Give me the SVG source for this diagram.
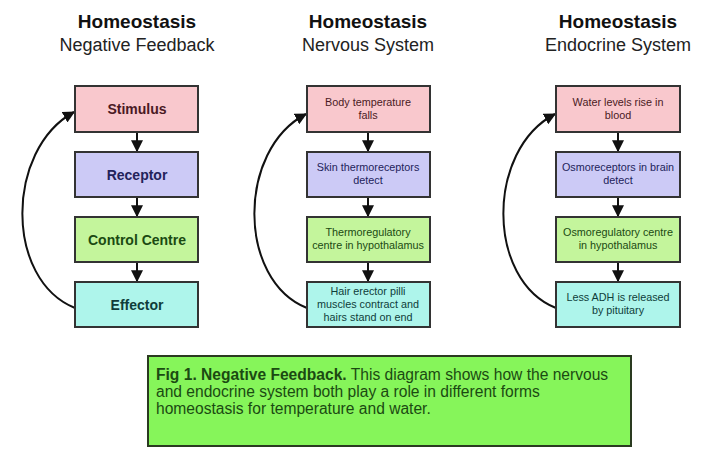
<svg xmlns="http://www.w3.org/2000/svg" width="720" height="457" viewBox="0 0 720 457">
<style>
text{font-family:"Liberation Sans",Arial,sans-serif;text-anchor:middle}
.h{font-size:19px;font-weight:bold;fill:#111}
.s{font-size:18px;fill:#222}
.b{stroke:#333;stroke-width:2}
.p{fill:#f9c8cd}.r{fill:#cccaf6}.g{fill:#c4f59c}.c{fill:#aef5eb}
.big{font-size:14px;font-weight:bold}
.sm{font-size:10.8px}
.tp{fill:#4a1a24}.tr{fill:#23235a}.tg{fill:#1b4a12}.tc{fill:#0f3d3a}
.con{stroke:#111;stroke-width:2;fill:none}
.cap{font-size:15.6px;fill:#1b4a12;text-anchor:start}
</style>
<defs>
<marker id="a" viewBox="0 0 10 10" refX="9" refY="5" markerWidth="6" markerHeight="6" orient="auto"><path d="M0,0L10,5L0,10z" fill="#111"/></marker>
</defs>
<rect width="720" height="457" fill="#fff"/>
<g id="titles">
<text class="h" x="137" y="28">Homeostasis</text><text class="s" x="137" y="51">Negative Feedback</text>
<text class="h" x="368" y="28">Homeostasis</text><text class="s" x="368" y="51">Nervous System</text>
<text class="h" x="618" y="28">Homeostasis</text><text class="s" x="618" y="51">Endocrine System</text>
</g>
<g id="connectors">
<path class="con" d="M137,132V151" marker-end="url(#a)"/>
<path class="con" d="M137,197V216" marker-end="url(#a)"/>
<path class="con" d="M137,262V281" marker-end="url(#a)"/>
<path class="con" d="M75,308C5,280 5,150 74,112" marker-end="url(#a)"/>
<path class="con" d="M368,132V151" marker-end="url(#a)"/>
<path class="con" d="M368,197V216" marker-end="url(#a)"/>
<path class="con" d="M368,262V281" marker-end="url(#a)"/>
<path class="con" d="M307,308C237,280 237,150 306,114" marker-end="url(#a)"/>
<path class="con" d="M618,132V151" marker-end="url(#a)"/>
<path class="con" d="M618,197V216" marker-end="url(#a)"/>
<path class="con" d="M618,262V281" marker-end="url(#a)"/>
<path class="con" d="M556,308C486,280 486,150 555,114" marker-end="url(#a)"/>
</g>
<g id="stimulus"><rect class="b p" x="75" y="86" width="123" height="46"/><text class="big tp" x="137" y="114">Stimulus</text></g>
<g id="receptor"><rect class="b r" x="75" y="152" width="123" height="45"/><text class="big tr" x="137" y="180">Receptor</text></g>
<g id="control"><rect class="b g" x="75" y="217" width="123" height="45"/><text class="big tg" x="137" y="245">Control Centre</text></g>
<g id="effector"><rect class="b c" x="75" y="282" width="123" height="45"/><text class="big tc" x="137" y="310">Effector</text></g>

<g id="n1"><rect class="b p" x="307" y="86" width="123" height="46"/><text class="sm tp" x="368" y="106">Body temperature</text><text class="sm tp" x="368" y="119">falls</text></g>
<g id="n2"><rect class="b r" x="307" y="152" width="123" height="45"/><text class="sm tr" x="368" y="171">Skin thermoreceptors</text><text class="sm tr" x="368" y="184">detect</text></g>
<g id="n3"><rect class="b g" x="307" y="217" width="123" height="45"/><text class="sm tg" x="368" y="236">Thermoregulatory</text><text class="sm tg" x="368" y="249">centre in hypothalamus</text></g>
<g id="n4"><rect class="b c" x="307" y="282" width="123" height="45"/><text class="sm tc" x="368" y="295">Hair erector pilli</text><text class="sm tc" x="368" y="308">muscles contract and</text><text class="sm tc" x="368" y="321">hairs stand on end</text></g>

<g id="e1"><rect class="b p" x="556" y="86" width="124" height="46"/><text class="sm tp" x="618" y="106">Water levels rise in</text><text class="sm tp" x="618" y="119">blood</text></g>
<g id="e2"><rect class="b r" x="556" y="152" width="124" height="45"/><text class="sm tr" x="618" y="171">Osmoreceptors in brain</text><text class="sm tr" x="618" y="184">detect</text></g>
<g id="e3"><rect class="b g" x="556" y="217" width="124" height="45"/><text class="sm tg" x="618" y="236">Osmoregulatory centre</text><text class="sm tg" x="618" y="249">in hypothalamus</text></g>
<g id="e4"><rect class="b c" x="556" y="282" width="124" height="45"/><text class="sm tc" x="618" y="301">Less ADH is released</text><text class="sm tc" x="618" y="314">by pituitary</text></g>

<g id="caption"><rect x="148" y="356" width="483" height="90" fill="#86f55a" stroke="#2a3a20" stroke-width="2"/>
<text class="cap" x="156" y="380"><tspan font-weight="bold">Fig 1. Negative Feedback.</tspan> This diagram shows how the nervous</text>
<text class="cap" x="156" y="397">and endocrine system both play a role in different forms</text>
<text class="cap" x="156" y="414">homeostasis for temperature and water.</text></g>
</svg>
